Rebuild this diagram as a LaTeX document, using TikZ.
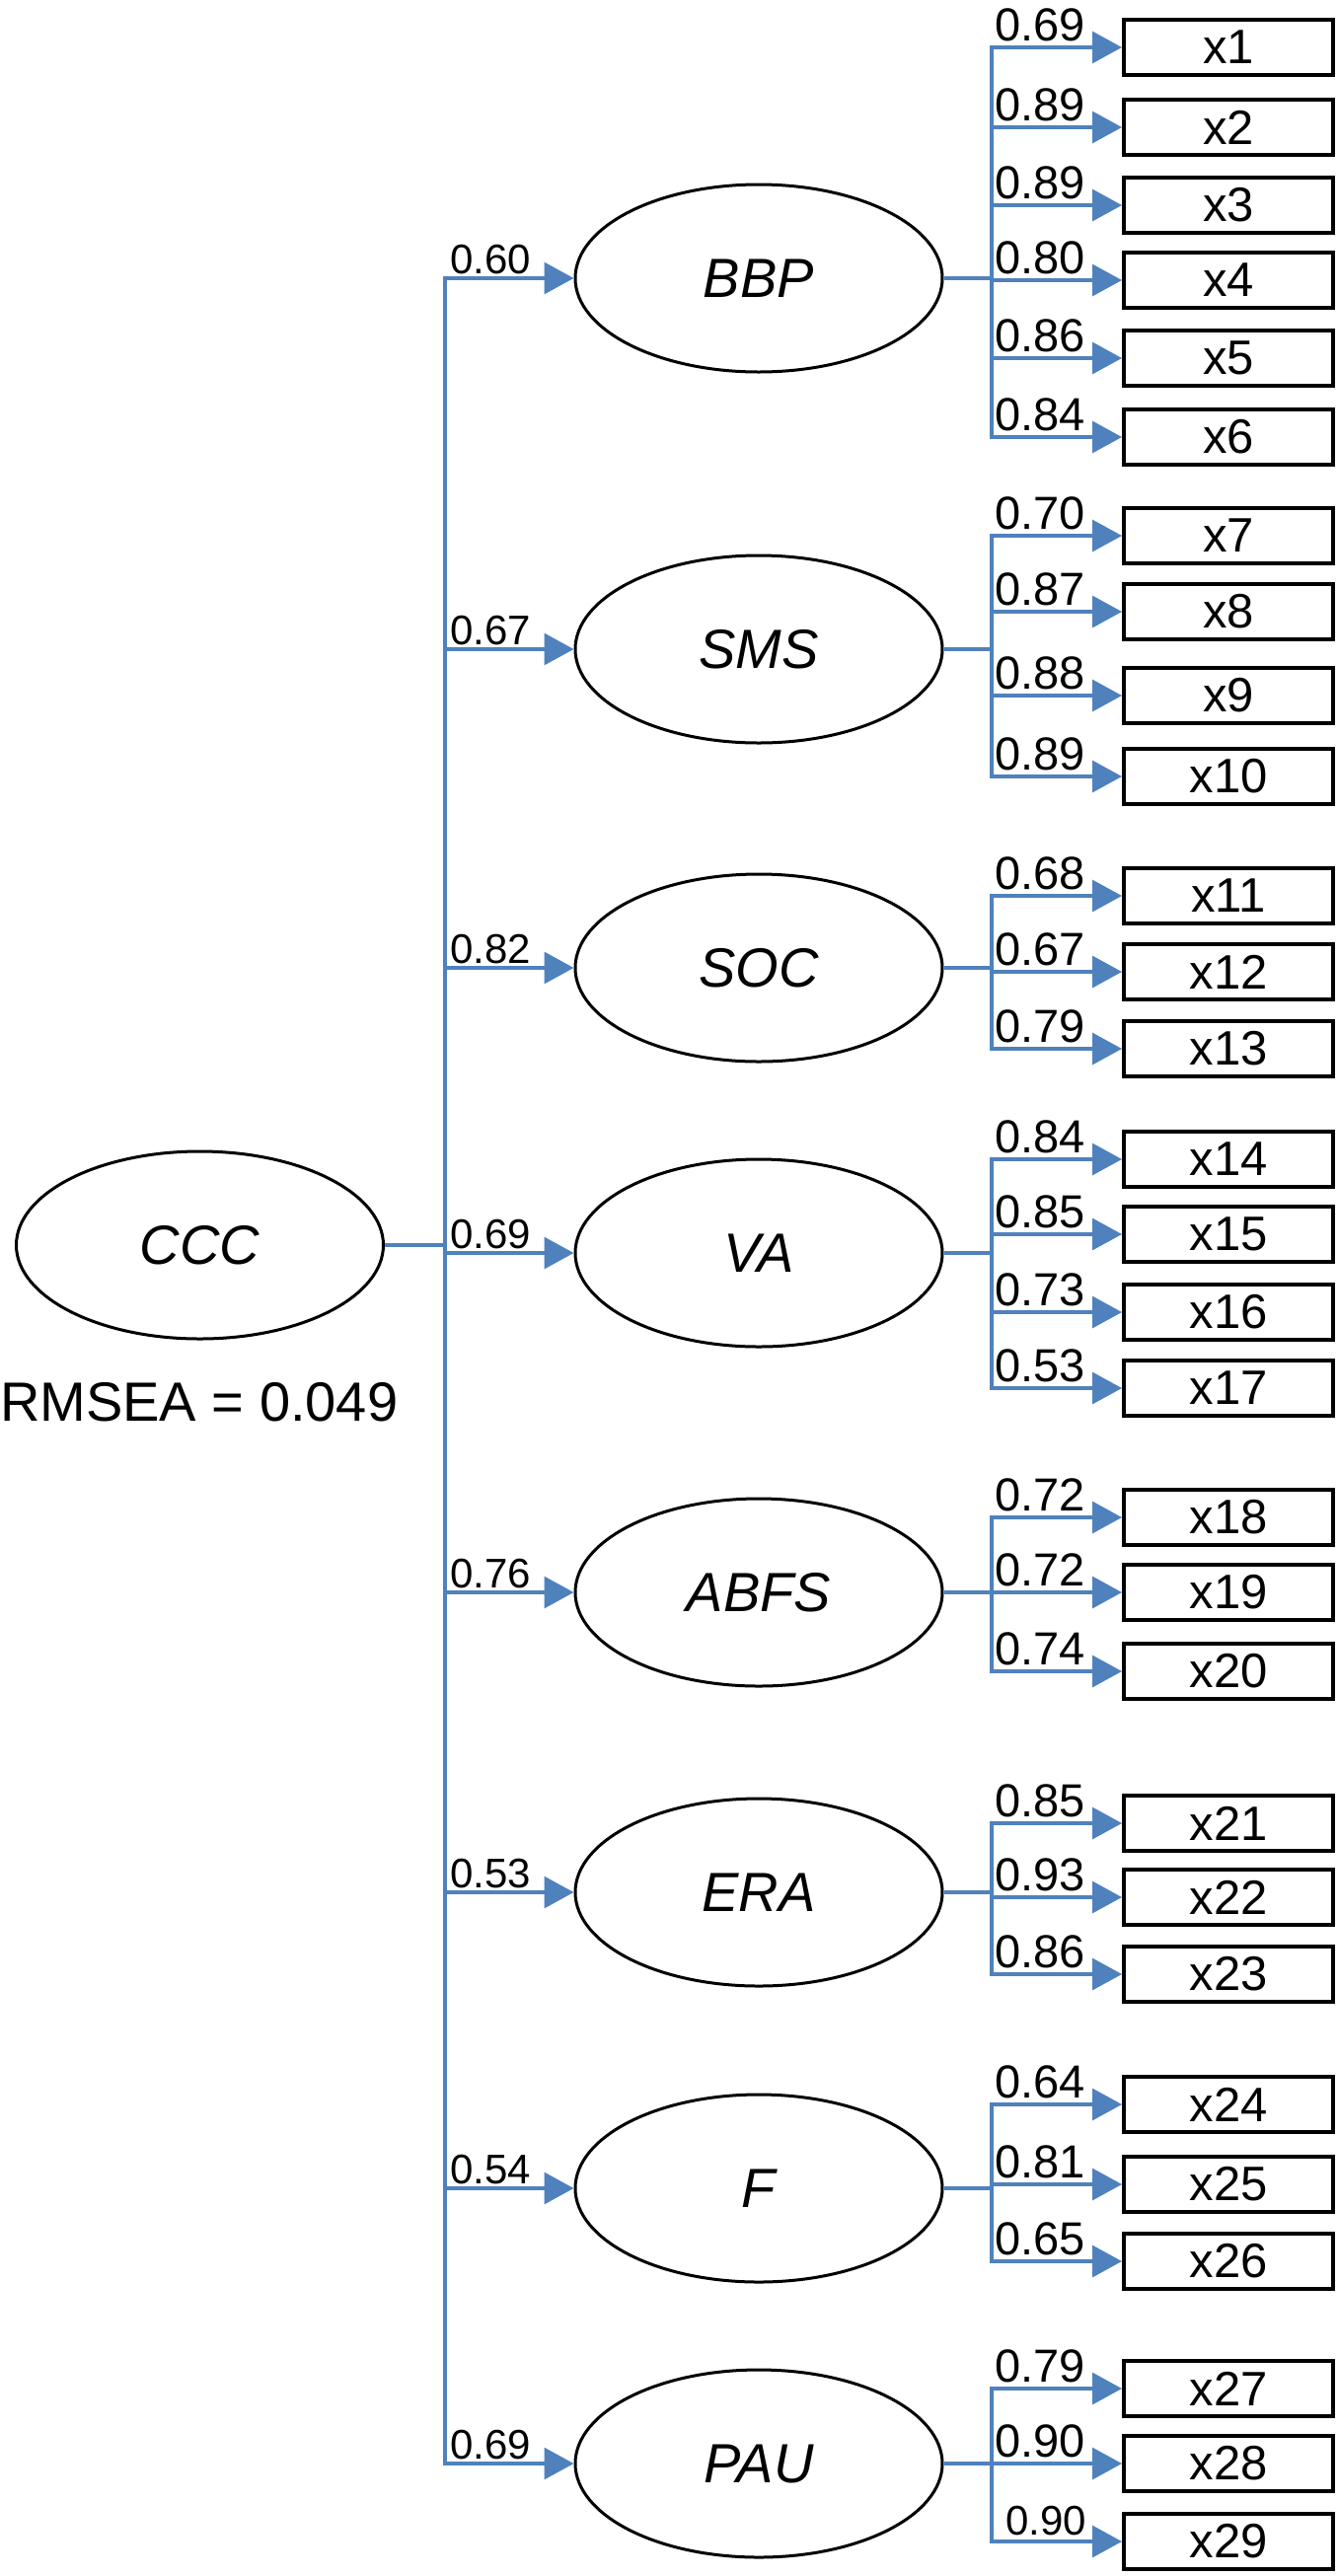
\documentclass[tikz,border=0pt]{standalone}
\usepackage{fontspec}
\setmainfont{Liberation Sans}
\usetikzlibrary{shapes.geometric,arrows.meta}
\definecolor{lnk}{RGB}{79,129,189}
\begin{document}
\begin{tikzpicture}[x=1pt,y=-1pt,
 lat/.style={ellipse,draw=black,line width=3pt,minimum width=372pt,minimum height=190pt,inner sep=0pt,font=\fontsize{56}{56}\selectfont\itshape},
 obs/.style={rectangle,draw=black,line width=4pt,minimum width=212pt,minimum height=56pt,inner sep=0pt,font=\fontsize{49}{49}\selectfont},
 link/.style={draw=lnk,line width=3.2pt},
 arr/.style={link,-{Triangle[length=30pt,width=32pt]}},
 tlab/.style={anchor=base west,inner sep=0pt,font=\fontsize{42}{42}\selectfont},
 blab/.style={anchor=base west,inner sep=0pt,font=\fontsize{47}{47}\selectfont}]
\useasboundingbox (0,0) rectangle (1356,2611);

% second-order factor
\node[lat] (CCC) at (202.5,1262) {CCC};
\node[anchor=base west,inner sep=0pt,font=\fontsize{56}{56}\selectfont] (rmsea) at (0,1440) {RMSEA = 0.049};
\coordinate (T) at (451,1262);
\draw[link] (CCC.east) -- (T);

% first-order factors
\foreach \n/\y/\l in {BBP/282/0.60, SMS/658/0.67, SOC/981/0.82, VA/1270/0.69, ABFS/1614/0.76, ERA/1918/0.53, F/2218/0.54, PAU/2497/0.69}{
  \node[lat] (\n) at (769,\y) {\n};
  \coordinate (\n-b) at (1005,\y);
  \draw[arr] (T) |- (\n.west);
  \node[tlab] (l\n) at (456,\y-5) {\l};
  \draw[link] (\n.east) -- (\n-b);
}

% indicators
\foreach \k/\y/\l/\p in {1/48/0.69/BBP, 2/129/0.89/BBP, 3/208/0.89/BBP, 4/284/0.80/BBP, 5/363/0.86/BBP, 6/443/0.84/BBP,
  7/543/0.70/SMS, 8/620/0.87/SMS, 9/705/0.88/SMS, 10/787/0.89/SMS,
  11/908/0.68/SOC, 12/985/0.67/SOC, 13/1063/0.79/SOC,
  14/1175/0.84/VA, 15/1251/0.85/VA, 16/1330/0.73/VA, 17/1407/0.53/VA,
  18/1538/0.72/ABFS, 19/1614/0.72/ABFS, 20/1694/0.74/ABFS,
  21/1848/0.85/ERA, 22/1923/0.93/ERA, 23/2001/0.86/ERA,
  24/2133/0.64/F, 25/2214/0.81/F, 26/2292/0.65/F,
  27/2421/0.79/PAU, 28/2497/0.90/PAU}{
  \node[obs] (x\k) at (1245,\y) {x\k};
  \draw[arr] (\p-b) |- (x\k.west);
  \node[blab] (lx\k) at (1008,\y-7) {\l};
}
\node[obs] (x29) at (1245,2576) {x29};
\draw[arr] (PAU-b) |- (x29.west);
\node[tlab] (lx29) at (1019,2569) {0.90};
\end{tikzpicture}
\end{document}
